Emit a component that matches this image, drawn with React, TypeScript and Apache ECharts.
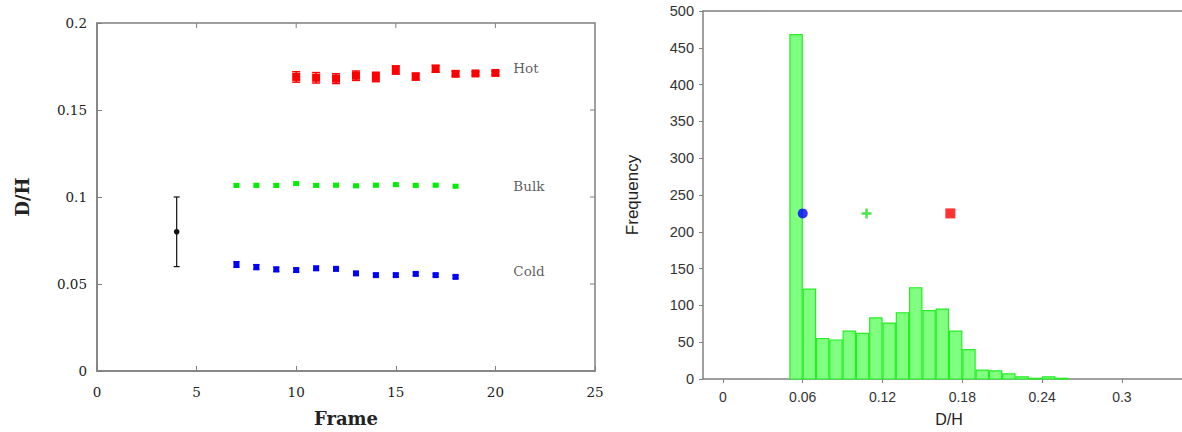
import React, { useEffect, useRef } from "react";
import * as echarts from "echarts";

// Left chart: D/H per frame
const hotFrames = [10, 11, 12, 13, 14, 15, 16, 17, 18, 19, 20];
const hotValues = [0.169, 0.1685, 0.168, 0.1697, 0.169, 0.173, 0.1692, 0.1737, 0.1708, 0.171, 0.1713];
const hotErrors = [0.003, 0.003, 0.0028, 0.0027, 0.0027, 0.0024, 0.002, 0.002, 0.0014, 0.001, 0.001];

const bulkFrames = [7, 8, 9, 10, 11, 12, 13, 14, 15, 16, 17, 18];
const bulkValues = [0.1067, 0.1067, 0.1067, 0.1077, 0.1067, 0.1068, 0.1064, 0.1068, 0.1071, 0.1067, 0.1068, 0.1062];
const bulkErrors = [0.0009, 0.0009, 0.0009, 0.0009, 0.0008, 0.0008, 0.0008, 0.0008, 0.0008, 0.0008, 0.0008, 0.0008];

const coldFrames = [7, 8, 9, 10, 11, 12, 13, 14, 15, 16, 17, 18];
const coldValues = [0.0612, 0.0597, 0.0584, 0.058, 0.059, 0.0587, 0.0561, 0.0551, 0.0551, 0.0558, 0.0551, 0.0541];
const coldErrors = [0.0016, 0.0014, 0.0012, 0.0011, 0.0011, 0.001, 0.001, 0.0009, 0.0009, 0.0009, 0.0008, 0.0008];

const refPoint = [4, 0.08, 0.02];

const groupLabels = ["Hot", "Bulk", "Cold"];
const groupLabelX = [20.9, 20.9, 20.9];
const groupLabelY = [0.1742, 0.1064, 0.0575];

const leftXTicks = [0, 5, 10, 15, 20, 25];
const leftYTicks = [0, 0.05, 0.1, 0.15, 0.2];

// Right chart: histogram of D/H
const binLeft = [0.05, 0.06, 0.07, 0.08, 0.09, 0.1, 0.11, 0.12, 0.13, 0.14, 0.15, 0.16, 0.17, 0.18, 0.19, 0.2, 0.21, 0.22, 0.23, 0.24, 0.25];
const binWidth = 0.01;
const frequencies = [468, 122, 55, 53, 65, 62, 83, 76, 90, 124, 93, 95, 65, 40, 12, 11, 7, 3, 1, 3, 1];
const rightXTicks = [0, 0.06, 0.12, 0.18, 0.24, 0.3];
const markerFreq = 225;
const meanCold = 0.06;
const meanBulk = 0.108;
const meanHot = 0.171;

const SERIF = "'DejaVu Serif', 'Liberation Serif', serif";
const SANS = "'Liberation Sans', Arial, sans-serif";
const AXIS = "#808080";

function errRender(color: string, mw: number, mh: number, cap: number, lw: number) {
  return (params: any, api: any) => {
    const x = api.value(0);
    const y = api.value(1);
    const e = api.value(2);
    const p = api.coord([x, y]);
    const hi = api.coord([x, y + e]);
    const lo = api.coord([x, y - e]);
    const st = { stroke: color, lineWidth: lw };
    return {
      type: "group",
      children: [
        { type: "line", shape: { x1: p[0], y1: hi[1], x2: p[0], y2: lo[1] }, style: st },
        { type: "line", shape: { x1: p[0] - cap / 2, y1: hi[1], x2: p[0] + cap / 2, y2: hi[1] }, style: st },
        { type: "line", shape: { x1: p[0] - cap / 2, y1: lo[1], x2: p[0] + cap / 2, y2: lo[1] }, style: st },
        mw > 0
          ? { type: "rect", shape: { x: p[0] - mw / 2, y: p[1] - mh / 2, width: mw, height: mh }, style: { fill: color } }
          : { type: "circle", shape: { cx: p[0], cy: p[1], r: mh }, style: { fill: color } },
      ],
    };
  };
}

export default function App() {
  const ref = useRef<HTMLDivElement>(null);
  useEffect(() => {
    if (!ref.current) return;
    const chart = echarts.init(ref.current, null, { renderer: "svg" });
    const zip = (xs: number[], ys: number[], es: number[]) => xs.map((x, i) => [x, ys[i], es[i]]);
    const line = () => ({ onZero: false, lineStyle: { color: AXIS, width: 1.5 } });
    const option: any = {
      animation: false,
      backgroundColor: "#ffffff",
      grid: [
        {
          left: 97, top: 23, width: 498, height: 348, outerBoundsMode: "none", containLabel: false,
          show: true, borderColor: AXIS, borderWidth: 1.5, backgroundColor: "transparent",
        },
        { left: 703, top: 11, width: 492, height: 368, outerBoundsMode: "none", containLabel: false },
      ],
      xAxis: [
        {
          gridIndex: 0, type: "value", min: 0, max: 25, interval: 5, position: "bottom",
          name: "Frame", nameLocation: "middle", nameGap: 38,
          nameTextStyle: { fontFamily: SERIF, fontWeight: "bold", fontSize: 18, color: "#222" },
          axisLine: line(),
          axisTick: { inside: true, length: 5, lineStyle: { color: AXIS } },
          axisLabel: { fontFamily: SERIF, fontSize: 13.5, color: "#222", margin: 14, customValues: leftXTicks },
          splitLine: { show: false },
        },
        {
          gridIndex: 1, type: "value", min: -0.015, max: 0.355, position: "bottom",
          name: "D/H", nameLocation: "middle", nameGap: 32,
          nameTextStyle: { fontFamily: SANS, fontSize: 16, color: "#222" },
          axisLine: line(),
          axisTick: { inside: false, length: 4, lineStyle: { color: AXIS }, customValues: rightXTicks },
          axisLabel: { fontFamily: SANS, fontSize: 14, color: "#333", margin: 11, customValues: rightXTicks, formatter: (v: number) => String(+v.toFixed(2)) },
          splitLine: { show: false },
        },
        {
          gridIndex: 1, type: "value", min: -0.015, max: 0.355, position: "top",
          axisLine: line(),
          axisTick: { show: false }, axisLabel: { show: false }, splitLine: { show: false },
        },
      ],
      yAxis: [
        {
          gridIndex: 0, type: "value", min: 0, max: 0.2, interval: 0.05, position: "left",
          name: "D/H", nameLocation: "middle", nameGap: 66,
          nameTextStyle: { fontFamily: SERIF, fontWeight: "bold", fontSize: 18, color: "#222" },
          axisLine: line(),
          axisTick: { inside: true, length: 5, lineStyle: { color: AXIS } },
          axisLabel: { fontFamily: SERIF, fontSize: 13.5, color: "#222", margin: 10, customValues: leftYTicks },
          splitLine: { show: false },
        },
        {
          gridIndex: 1, type: "value", min: 0, max: 500, interval: 50, position: "left",
          name: "Frequency", nameLocation: "middle", nameGap: 62,
          nameTextStyle: { fontFamily: SANS, fontSize: 17, color: "#222" },
          axisLine: line(),
          axisTick: { inside: false, length: 4, lineStyle: { color: AXIS } },
          axisLabel: { fontFamily: SANS, fontSize: 14.5, color: "#333", margin: 9 },
          splitLine: { show: false },
        },
      ],
      series: [
        // mirrored ticks on top and right edges of the left frame
        {
          type: "custom", xAxisIndex: 0, yAxisIndex: 0, silent: true,
          data: [
            ...leftXTicks.slice(1, -1).map((v) => [0, v]),
            ...leftYTicks.slice(1, -1).map((v) => [1, v]),
          ],
          renderItem: (params: any, api: any) => {
            const kind = api.value(0);
            const v = api.value(1);
            const st = { stroke: AXIS, lineWidth: 1 };
            if (kind === 0) {
              const p = api.coord([v, 0.2]);
              return { type: "line", shape: { x1: p[0], y1: p[1], x2: p[0], y2: p[1] + 5 }, style: st };
            }
            const p = api.coord([25, v]);
            return { type: "line", shape: { x1: p[0], y1: p[1], x2: p[0] - 5, y2: p[1] }, style: st };
          },
        },
        {
          type: "custom", xAxisIndex: 0, yAxisIndex: 0,
          data: zip(hotFrames, hotValues, hotErrors),
          renderItem: errRender("#ff0000", 8, 8, 8, 1.5), z: 5,
        },
        {
          type: "custom", xAxisIndex: 0, yAxisIndex: 0,
          data: zip(bulkFrames, bulkValues, bulkErrors),
          renderItem: errRender("#00ee00", 6, 5, 5, 1.5), z: 5,
        },
        {
          type: "custom", xAxisIndex: 0, yAxisIndex: 0,
          data: zip(coldFrames, coldValues, coldErrors),
          renderItem: errRender("#0000ff", 6, 6, 6, 1.5), z: 5,
        },
        {
          type: "custom", xAxisIndex: 0, yAxisIndex: 0,
          data: [refPoint],
          renderItem: errRender("#111111", 0, 2.8, 6, 1.2), z: 5,
        },
        {
          type: "scatter", xAxisIndex: 0, yAxisIndex: 0, symbolSize: 0,
          data: groupLabels.map((n, i) => ({ name: n, value: [groupLabelX[i], groupLabelY[i]] })),
          label: {
            show: true, position: "right", distance: 0, formatter: "{b}",
            fontFamily: SERIF, fontSize: 13.5, color: "#333",
          },
        },
        {
          type: "custom", xAxisIndex: 1, yAxisIndex: 1,
          data: binLeft.map((x, i) => [x, x + binWidth, frequencies[i]]),
          renderItem: (params: any, api: any) => {
            const a = api.coord([api.value(0), api.value(2)]);
            const b = api.coord([api.value(1), 0]);
            return {
              type: "rect",
              shape: { x: a[0] + 0.5, y: a[1], width: b[0] - a[0] - 1, height: b[1] - a[1] },
              style: { fill: "#80ff80", stroke: "#22f022", lineWidth: 1.2 },
            };
          },
          z: 2,
        },
        {
          type: "scatter", xAxisIndex: 1, yAxisIndex: 1, symbol: "circle", symbolSize: 10,
          itemStyle: { color: "#0000ff" }, data: [[meanCold, markerFreq]], z: 6,
        },
        {
          type: "scatter", xAxisIndex: 1, yAxisIndex: 1,
          symbol: "path://M3,0H5V3H8V5H5V8H3V5H0V3H3Z", symbolSize: 10,
          itemStyle: { color: "#22dd22" }, data: [[meanBulk, markerFreq]], z: 6,
        },
        {
          type: "scatter", xAxisIndex: 1, yAxisIndex: 1, symbol: "rect", symbolSize: 10,
          itemStyle: { color: "#ff0000" }, data: [[meanHot, markerFreq]], z: 6,
        },
      ],
    };
    chart.setOption(option);
    return () => chart.dispose();
  }, []);
  return <div ref={ref} style={{ width: 1182, height: 432, position: "absolute", left: 0, top: 0 }} />;
}
